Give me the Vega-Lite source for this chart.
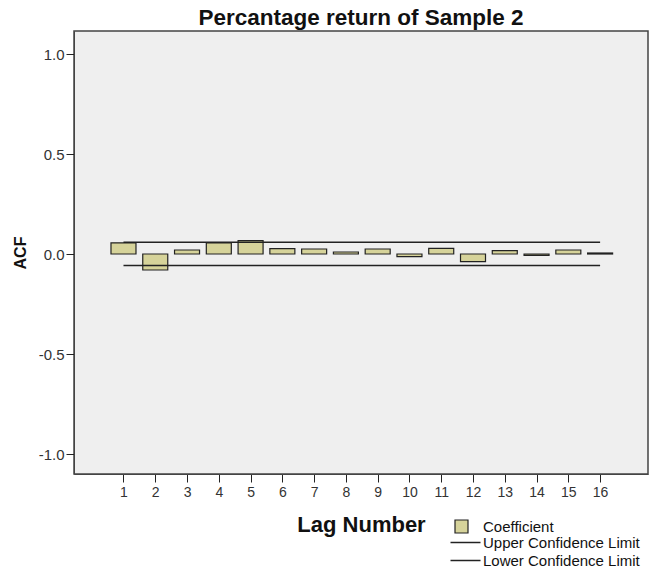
{
  "$schema": "https://vega.github.io/schema/vega-lite/v6.json",
  "autosize": {"type": "none"},
  "width": 574,
  "height": 443,
  "padding": {"left": 74, "top": 31, "right": 1, "bottom": 95},
  "background": "#ffffff",
  "title": {"text": "Percantage return of Sample 2", "font": "Liberation Sans", "fontSize": 22.5, "fontWeight": "bold", "color": "#111111", "offset": 2, "anchor": "middle"},
  "config": {
    "view": {"fill": "#efefef", "stroke": "#444444", "strokeWidth": 1.5},
    "axis": {"grid": false, "labelFont": "Liberation Sans", "titleFont": "Liberation Sans", "domainColor": "#444444", "tickColor": "#222222", "labelColor": "#333333", "titleColor": "#111111"},
    "legend": {"labelFont": "Liberation Sans", "labelFontSize": 15, "labelColor": "#111111"}
  },
  "datasets": {
    "acf": [
      {"lag": 1, "value": 0.056, "series": "Coefficient"},
      {"lag": 2, "value": -0.080, "series": "Coefficient"},
      {"lag": 3, "value": 0.020, "series": "Coefficient"},
      {"lag": 4, "value": 0.056, "series": "Coefficient"},
      {"lag": 5, "value": 0.067, "series": "Coefficient"},
      {"lag": 6, "value": 0.027, "series": "Coefficient"},
      {"lag": 7, "value": 0.025, "series": "Coefficient"},
      {"lag": 8, "value": 0.010, "series": "Coefficient"},
      {"lag": 9, "value": 0.025, "series": "Coefficient"},
      {"lag": 10, "value": -0.013, "series": "Coefficient"},
      {"lag": 11, "value": 0.028, "series": "Coefficient"},
      {"lag": 12, "value": -0.038, "series": "Coefficient"},
      {"lag": 13, "value": 0.017, "series": "Coefficient"},
      {"lag": 14, "value": -0.007, "series": "Coefficient"},
      {"lag": 15, "value": 0.020, "series": "Coefficient"},
      {"lag": 16, "value": 0.005, "series": "Coefficient"}
    ],
    "limits": [
      {"lag": 1, "value": 0.059, "series": "Upper Confidence Limit"},
      {"lag": 16, "value": 0.059, "series": "Upper Confidence Limit"},
      {"lag": 1, "value": -0.058, "series": "Lower Confidence Limit"},
      {"lag": 16, "value": -0.058, "series": "Lower Confidence Limit"}
    ]
  },
  "layer": [
    {
      "data": {"name": "acf"},
      "mark": {"type": "bar", "size": 25, "stroke": "#222222", "strokeWidth": 1.2},
      "encoding": {
        "x": {"field": "lag", "type": "quantitative", "scale": {"domain": [-0.4, 17.35], "nice": false, "zero": false},
              "axis": {"values": [1,2,3,4,5,6,7,8,9,10,11,12,13,14,15,16], "title": "Lag Number", "titleFontSize": 22, "titleFontWeight": "bold", "titlePadding": 15, "labelFontSize": 14, "labelOverlap": false, "labelFlush": false, "tickSize": 8, "labelPadding": 3, "format": "d"}},
        "y": {"field": "value", "type": "quantitative", "scale": {"domain": [-1.1, 1.115], "nice": false},
              "axis": {"values": [-1, -0.5, 0, 0.5, 1], "labelExpr": "datum.value < 0 ? '-' + format(-datum.value, '.1f') : format(datum.value, '.1f')", "title": "ACF", "titleFontSize": 16, "titleFontWeight": "bold", "titlePadding": 10, "labelFontSize": 15, "tickSize": 8, "labelPadding": 2}},
        "y2": {"datum": 0},
        "fill": {"field": "series", "type": "nominal",
                 "scale": {"domain": ["Coefficient"], "range": ["#d6d39a"]},
                 "legend": {"title": null, "orient": "none", "legendX": 380, "legendY": 488, "symbolType": "square", "symbolSize": 169, "symbolStrokeColor": "#222222", "symbolStrokeWidth": 1.2, "symbolOpacity": 1, "labelOffset": 14}}
      }
    },
    {
      "data": {"name": "limits"},
      "mark": {"type": "line", "strokeWidth": 1.5},
      "encoding": {
        "x": {"field": "lag", "type": "quantitative", "scale": {"domain": [-0.4, 17.35], "nice": false, "zero": false},
              "axis": {"values": [1,2,3,4,5,6,7,8,9,10,11,12,13,14,15,16], "title": "Lag Number", "titleFontSize": 22, "titleFontWeight": "bold", "titlePadding": 15, "labelFontSize": 14, "labelOverlap": false, "labelFlush": false, "tickSize": 8, "labelPadding": 3, "format": "d"}},
        "y": {"field": "value", "type": "quantitative", "scale": {"domain": [-1.1, 1.115], "nice": false},
              "axis": {"values": [-1, -0.5, 0, 0.5, 1], "labelExpr": "datum.value < 0 ? '-' + format(-datum.value, '.1f') : format(datum.value, '.1f')", "title": "ACF", "titleFontSize": 16, "titleFontWeight": "bold", "titlePadding": 10, "labelFontSize": 15, "tickSize": 8, "labelPadding": 2}},
        "stroke": {"field": "series", "type": "nominal",
                   "scale": {"domain": ["Upper Confidence Limit", "Lower Confidence Limit"], "range": ["#222222", "#222222"]},
                   "legend": {"title": null, "orient": "none", "legendX": 383, "legendY": 503, "symbolType": "M-2,0H2", "symbolSize": 225, "symbolStrokeWidth": 1.5, "symbolFillColor": "transparent", "rowPadding": 1, "labelOffset": 9}}
      }
    },
    {
      "mark": {"type": "rule", "color": "#111111", "strokeWidth": 1.5},
      "encoding": {"y": {"datum": 0}}
    }
  ]
}
